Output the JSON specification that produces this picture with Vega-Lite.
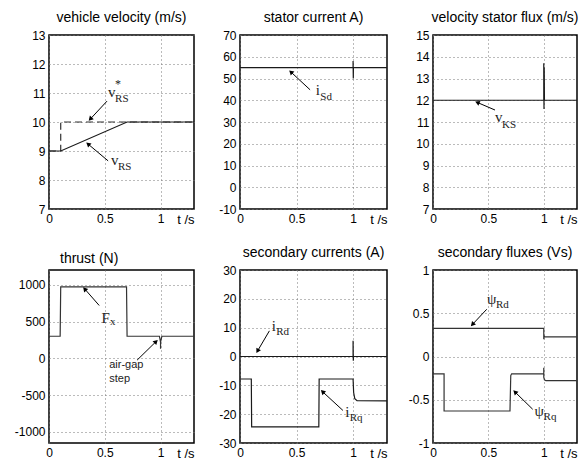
{
  "$schema": "https://vega.github.io/schema/vega-lite/v6.json",
  "padding": {"left": 13, "top": 10, "right": 3, "bottom": 3},
  "background": "white",
  "config": {
    "view": {"stroke": "black", "strokeWidth": 1.5},
    "font": "Liberation Sans",
    "axis": {
      "grid": true, "gridDash": [1, 3], "gridColor": "#777", "gridWidth": 1,
      "ticks": false, "domain": false,
      "labelFont": "Liberation Sans", "labelFontSize": 12, "labelColor": "black",
      "labelPadding": 4, "labelFlush": false, "labelOverlap": false,
      "titleFont": "Liberation Sans", "titleFontSize": 13, "titleFontWeight": "normal", "titleColor": "black"
    },
    "title": {"font": "Liberation Sans", "fontSize": 14, "fontWeight": "normal", "color": "black", "offset": 0, "anchor": "middle"},
    "line": {"color": "#1a1a1a", "strokeWidth": 1.2},
    "rule": {"color": "black", "strokeWidth": 1},
    "point": {"color": "black", "filled": true, "opacity": 1, "size": 28, "shape": "triangle-up"},
    "text": {"font": "Liberation Serif", "color": "#222"}
  },
  "vconcat": [
    {
      "hconcat": [
        {
          "width": 145, "height": 174,
          "title": "vehicle velocity (m/s)",
          "layer": [
            {
              "data": {"values": [{"t": 0, "v": 9}, {"t": 0.105, "v": 9}, {"t": 0.105, "v": 10}, {"t": 1.3, "v": 10}]},
              "mark": {"type": "line", "strokeDash": [7, 4], "color": "#333"},
              "encoding": {
                "x": {"field": "t", "type": "quantitative", "scale": {"domain": [0, 1.3], "nice": false, "zero": false}, "axis": {"values": [0, 0.5, 1], "tickCount": 20, "title": "t /s", "labelExpr": "datum.value + ''", "labelOverlap": false, "titleAnchor": "end", "titleAlign": "right", "titleBaseline": "top", "titleY": 4}},
                "y": {"field": "v", "type": "quantitative", "scale": {"domain": [7, 13], "nice": false, "zero": false}, "axis": {"values": [7, 8, 9, 10, 11, 12, 13], "tickCount": 20, "title": null, "labelExpr": "datum.value + ''", "labelOverlap": false}},
                "order": {"value": null}
              }
            },
            {
              "data": {"values": [{"t": 0, "v": 9}, {"t": 0.105, "v": 9}, {"t": 0.7, "v": 10}, {"t": 1.3, "v": 10}]},
              "mark": {"type": "line"},
              "encoding": {"x": {"field": "t", "type": "quantitative"}, "y": {"field": "v", "type": "quantitative"}, "order": {"value": null}}
            },
            {
              "data": {"values": [{"t": 0.52, "v": 10.72, "t2": 0.37, "v2": 10.1}]},
              "layer": [
                {"mark": {"type": "rule"}, "encoding": {"x": {"field": "t", "type": "quantitative"}, "y": {"field": "v", "type": "quantitative"}, "x2": {"field": "t2"}, "y2": {"field": "v2"}}},
                {"mark": {"type": "point", "angle": 223}, "encoding": {"x": {"field": "t2", "type": "quantitative"}, "y": {"field": "v2", "type": "quantitative"}}}
              ]
            },
            {
              "data": {"values": [{"t": 0.53, "v": 8.66, "t2": 0.35, "v2": 9.24}]},
              "layer": [
                {"mark": {"type": "rule"}, "encoding": {"x": {"field": "t", "type": "quantitative"}, "y": {"field": "v", "type": "quantitative"}, "x2": {"field": "t2"}, "y2": {"field": "v2"}}},
                {"mark": {"type": "point", "angle": 310}, "encoding": {"x": {"field": "t2", "type": "quantitative"}, "y": {"field": "v2", "type": "quantitative"}}}
              ]
            },
            {
              "data": {"values": [{"t": 0.53, "v": 10.85, "m": "v", "sub": "RS", "sup": "*"}, {"t": 0.556, "v": 8.53, "m": "v", "sub": "RS", "sup": ""}]},
              "layer": [
                {"mark": {"type": "text", "fontSize": 15, "align": "left", "baseline": "alphabetic"}, "encoding": {"x": {"field": "t", "type": "quantitative"}, "y": {"field": "v", "type": "quantitative"}, "text": {"field": "m"}}},
                {"mark": {"type": "text", "fontSize": 11, "align": "left", "baseline": "alphabetic", "dx": 7, "dy": 5}, "encoding": {"x": {"field": "t", "type": "quantitative"}, "y": {"field": "v", "type": "quantitative"}, "text": {"field": "sub"}}},
                {"mark": {"type": "text", "fontSize": 12, "align": "left", "baseline": "alphabetic", "dx": 7, "dy": -9}, "encoding": {"x": {"field": "t", "type": "quantitative"}, "y": {"field": "v", "type": "quantitative"}, "text": {"field": "sup"}}}
              ]
            }
          ]
        },
        {
          "width": 147, "height": 174,
          "title": "stator current A)",
          "layer": [
            {
              "data": {"values": [{"t": 0, "v": 55}, {"t": 1.0, "v": 55}, {"t": 1.0, "v": 58}, {"t": 1.002, "v": 50}, {"t": 1.003, "v": 55}, {"t": 1.3, "v": 55}]},
              "mark": {"type": "line"},
              "encoding": {
                "x": {"field": "t", "type": "quantitative", "scale": {"domain": [0, 1.3], "nice": false, "zero": false}, "axis": {"values": [0, 0.5, 1], "tickCount": 20, "title": "t /s", "labelExpr": "datum.value + ''", "labelOverlap": false, "titleAnchor": "end", "titleAlign": "right", "titleBaseline": "top", "titleY": 4}},
                "y": {"field": "v", "type": "quantitative", "scale": {"domain": [-10, 70], "nice": false, "zero": false}, "axis": {"values": [-10, 0, 10, 20, 30, 40, 50, 60, 70], "tickCount": 20, "title": null, "labelExpr": "datum.value + ''", "labelOverlap": false}},
                "order": {"value": null}
              }
            },
            {
              "data": {"values": [{"t": 0.62, "v": 44.8, "t2": 0.45, "v2": 53}]},
              "layer": [
                {"mark": {"type": "rule"}, "encoding": {"x": {"field": "t", "type": "quantitative"}, "y": {"field": "v", "type": "quantitative"}, "x2": {"field": "t2"}, "y2": {"field": "v2"}}},
                {"mark": {"type": "point", "angle": 313}, "encoding": {"x": {"field": "t2", "type": "quantitative"}, "y": {"field": "v2", "type": "quantitative"}}}
              ]
            },
            {
              "data": {"values": [{"t": 0.67, "v": 42.6, "m": "i", "sub": "Sd"}]},
              "layer": [
                {"mark": {"type": "text", "fontSize": 15, "align": "left", "baseline": "alphabetic"}, "encoding": {"x": {"field": "t", "type": "quantitative"}, "y": {"field": "v", "type": "quantitative"}, "text": {"field": "m"}}},
                {"mark": {"type": "text", "fontSize": 11, "align": "left", "baseline": "alphabetic", "dx": 4.5, "dy": 5}, "encoding": {"x": {"field": "t", "type": "quantitative"}, "y": {"field": "v", "type": "quantitative"}, "text": {"field": "sub"}}}
              ]
            }
          ]
        },
        {
          "width": 144, "height": 174,
          "title": "velocity stator flux (m/s)",
          "layer": [
            {
              "data": {"values": [{"t": 0, "v": 12}, {"t": 1.0, "v": 12}, {"t": 1.0, "v": 13.7}, {"t": 1.002, "v": 11.6}, {"t": 1.004, "v": 13.5}, {"t": 1.006, "v": 12}, {"t": 1.3, "v": 12}]},
              "mark": {"type": "line"},
              "encoding": {
                "x": {"field": "t", "type": "quantitative", "scale": {"domain": [0, 1.3], "nice": false, "zero": false}, "axis": {"values": [0, 0.5, 1], "tickCount": 20, "title": "t /s", "labelExpr": "datum.value + ''", "labelOverlap": false, "titleAnchor": "end", "titleAlign": "right", "titleBaseline": "top", "titleY": 4}},
                "y": {"field": "v", "type": "quantitative", "scale": {"domain": [7, 15], "nice": false, "zero": false}, "axis": {"values": [7, 8, 9, 10, 11, 12, 13, 14, 15], "tickCount": 20, "title": null, "labelExpr": "datum.value + ''", "labelOverlap": false}},
                "order": {"value": null}
              }
            },
            {
              "data": {"values": [{"t": 0.56, "v": 11.55, "t2": 0.4, "v2": 11.9}]},
              "layer": [
                {"mark": {"type": "rule"}, "encoding": {"x": {"field": "t", "type": "quantitative"}, "y": {"field": "v", "type": "quantitative"}, "x2": {"field": "t2"}, "y2": {"field": "v2"}}},
                {"mark": {"type": "point", "angle": 293}, "encoding": {"x": {"field": "t2", "type": "quantitative"}, "y": {"field": "v2", "type": "quantitative"}}}
              ]
            },
            {
              "data": {"values": [{"t": 0.56, "v": 11.0, "m": "v", "sub": "KS"}]},
              "layer": [
                {"mark": {"type": "text", "fontSize": 15, "align": "left", "baseline": "alphabetic"}, "encoding": {"x": {"field": "t", "type": "quantitative"}, "y": {"field": "v", "type": "quantitative"}, "text": {"field": "m"}}},
                {"mark": {"type": "text", "fontSize": 11, "align": "left", "baseline": "alphabetic", "dx": 7, "dy": 6}, "encoding": {"x": {"field": "t", "type": "quantitative"}, "y": {"field": "v", "type": "quantitative"}, "text": {"field": "sub"}}}
              ]
            }
          ]
        }
      ],
      "spacing": 46,
      "bounds": "flush"
    },
    {
      "hconcat": [
        {
          "width": 145, "height": 173,
          "title": {"text": "thrust (N)", "anchor": "start", "frame": "group", "dx": 11},
          "layer": [
            {
              "data": {"values": [{"t": 0, "v": 300}, {"t": 0.1, "v": 300}, {"t": 0.105, "v": 970}, {"t": 0.695, "v": 970}, {"t": 0.7, "v": 300}, {"t": 0.99, "v": 300}, {"t": 1.0, "v": 220}, {"t": 1.0, "v": 130}, {"t": 1.0, "v": 220}, {"t": 1.012, "v": 300}, {"t": 1.3, "v": 300}]},
              "mark": {"type": "line", "color": "#333"},
              "encoding": {
                "x": {"field": "t", "type": "quantitative", "scale": {"domain": [0, 1.3], "nice": false, "zero": false}, "axis": {"values": [0, 0.5, 1], "tickCount": 20, "title": "t /s", "labelExpr": "datum.value + ''", "labelOverlap": false, "titleAnchor": "end", "titleAlign": "right", "titleBaseline": "top", "titleY": 4}},
                "y": {"field": "v", "type": "quantitative", "scale": {"domain": [-1150, 1200], "nice": false, "zero": false}, "axis": {"values": [-1000, -500, 0, 500, 1000], "tickCount": 20, "title": null, "labelExpr": "datum.value + ''", "labelOverlap": false}},
                "order": {"value": null}
              }
            },
            {
              "data": {"values": [{"t": 0.45, "v": 718, "t2": 0.32, "v2": 943}]},
              "layer": [
                {"mark": {"type": "rule"}, "encoding": {"x": {"field": "t", "type": "quantitative"}, "y": {"field": "v", "type": "quantitative"}, "x2": {"field": "t2"}, "y2": {"field": "v2"}}},
                {"mark": {"type": "point", "angle": 319}, "encoding": {"x": {"field": "t2", "type": "quantitative"}, "y": {"field": "v2", "type": "quantitative"}}}
              ]
            },
            {
              "data": {"values": [{"t": 0.79, "v": -24, "t2": 0.96, "v2": 228}]},
              "layer": [
                {"mark": {"type": "rule"}, "encoding": {"x": {"field": "t", "type": "quantitative"}, "y": {"field": "v", "type": "quantitative"}, "x2": {"field": "t2"}, "y2": {"field": "v2"}}},
                {"mark": {"type": "point", "angle": 46}, "encoding": {"x": {"field": "t2", "type": "quantitative"}, "y": {"field": "v2", "type": "quantitative"}}}
              ]
            },
            {
              "data": {"values": [{"t": 0.47, "v": 480, "m": "F", "sub": "x"}]},
              "layer": [
                {"mark": {"type": "text", "fontSize": 15, "align": "left", "baseline": "alphabetic"}, "encoding": {"x": {"field": "t", "type": "quantitative"}, "y": {"field": "v", "type": "quantitative"}, "text": {"field": "m"}}},
                {"mark": {"type": "text", "fontSize": 11, "align": "left", "baseline": "alphabetic", "dx": 8.5, "dy": 2}, "encoding": {"x": {"field": "t", "type": "quantitative"}, "y": {"field": "v", "type": "quantitative"}, "text": {"field": "sub"}}}
              ]
            },
            {
              "data": {"values": [{"t": 0.54, "v": -136, "m": "air-gap\nstep"}]},
              "mark": {"type": "text", "font": "Liberation Sans", "fontSize": 11, "align": "left", "baseline": "alphabetic", "lineBreak": "\n", "lineHeight": 14},
              "encoding": {"x": {"field": "t", "type": "quantitative"}, "y": {"field": "v", "type": "quantitative"}, "text": {"field": "m"}}
            }
          ]
        },
        {
          "width": 147, "height": 173,
          "title": "secondary currents (A)",
          "layer": [
            {
              "data": {"values": [{"t": 0, "v": 0}, {"t": 1.0, "v": 0}, {"t": 1.0, "v": 5.5}, {"t": 1.002, "v": -1.5}, {"t": 1.004, "v": 0}, {"t": 1.3, "v": 0}]},
              "mark": {"type": "line"},
              "encoding": {
                "x": {"field": "t", "type": "quantitative", "scale": {"domain": [0, 1.3], "nice": false, "zero": false}, "axis": {"values": [0, 0.5, 1], "tickCount": 20, "title": "t /s", "labelExpr": "datum.value + ''", "labelOverlap": false, "titleAnchor": "end", "titleAlign": "right", "titleBaseline": "top", "titleY": 4}},
                "y": {"field": "v", "type": "quantitative", "scale": {"domain": [-30, 30], "nice": false, "zero": false}, "axis": {"values": [-30, -20, -10, 0, 10, 20, 30], "tickCount": 20, "title": null, "labelExpr": "datum.value + ''", "labelOverlap": false}},
                "order": {"value": null}
              }
            },
            {
              "data": {"values": [{"t": 0, "v": -7.8}, {"t": 0.1, "v": -7.8}, {"t": 0.103, "v": -24.4}, {"t": 0.697, "v": -24.4}, {"t": 0.7, "v": -7.8}, {"t": 1.0, "v": -7.8}, {"t": 1.005, "v": -12.5}, {"t": 1.015, "v": -14.6}, {"t": 1.035, "v": -15.3}, {"t": 1.3, "v": -15.4}]},
              "mark": {"type": "line"},
              "encoding": {"x": {"field": "t", "type": "quantitative"}, "y": {"field": "v", "type": "quantitative"}, "order": {"value": null}}
            },
            {
              "data": {"values": [{"t": 0.26, "v": 8.9, "t2": 0.155, "v2": 1.9}]},
              "layer": [
                {"mark": {"type": "rule"}, "encoding": {"x": {"field": "t", "type": "quantitative"}, "y": {"field": "v", "type": "quantitative"}, "x2": {"field": "t2"}, "y2": {"field": "v2"}}},
                {"mark": {"type": "point", "angle": 210}, "encoding": {"x": {"field": "t2", "type": "quantitative"}, "y": {"field": "v2", "type": "quantitative"}}}
              ]
            },
            {
              "data": {"values": [{"t": 0.91, "v": -18.7, "t2": 0.73, "v2": -12.2}]},
              "layer": [
                {"mark": {"type": "rule"}, "encoding": {"x": {"field": "t", "type": "quantitative"}, "y": {"field": "v", "type": "quantitative"}, "x2": {"field": "t2"}, "y2": {"field": "v2"}}},
                {"mark": {"type": "point", "angle": 313}, "encoding": {"x": {"field": "t2", "type": "quantitative"}, "y": {"field": "v2", "type": "quantitative"}}}
              ]
            },
            {
              "data": {"values": [{"t": 0.28, "v": 8.95, "m": "i", "sub": "Rd"}, {"t": 0.93, "v": -21.1, "m": "i", "sub": "Rq"}]},
              "layer": [
                {"mark": {"type": "text", "fontSize": 15, "align": "left", "baseline": "alphabetic"}, "encoding": {"x": {"field": "t", "type": "quantitative"}, "y": {"field": "v", "type": "quantitative"}, "text": {"field": "m"}}},
                {"mark": {"type": "text", "fontSize": 11, "align": "left", "baseline": "alphabetic", "dx": 4.5, "dy": 4}, "encoding": {"x": {"field": "t", "type": "quantitative"}, "y": {"field": "v", "type": "quantitative"}, "text": {"field": "sub"}}}
              ]
            }
          ]
        },
        {
          "width": 144, "height": 173,
          "title": "secondary fluxes (Vs)",
          "layer": [
            {
              "data": {"values": [{"t": 0, "v": 0.325}, {"t": 1.0, "v": 0.325}, {"t": 1.0, "v": 0.2}, {"t": 1.003, "v": 0.24}, {"t": 1.008, "v": 0.226}, {"t": 1.3, "v": 0.226}]},
              "mark": {"type": "line", "color": "#333"},
              "encoding": {
                "x": {"field": "t", "type": "quantitative", "scale": {"domain": [0, 1.3], "nice": false, "zero": false}, "axis": {"values": [0, 0.5, 1], "tickCount": 20, "title": "t /s", "labelExpr": "datum.value + ''", "labelOverlap": false, "titleAnchor": "end", "titleAlign": "right", "titleBaseline": "top", "titleY": 4}},
                "y": {"field": "v", "type": "quantitative", "scale": {"domain": [-1, 1], "nice": false, "zero": false}, "axis": {"values": [-1, -0.5, 0, 0.5, 1], "tickCount": 20, "title": null, "labelExpr": "datum.value + ''", "labelOverlap": false}},
                "order": {"value": null}
              }
            },
            {
              "data": {"values": [{"t": 0, "v": -0.2}, {"t": 0.1, "v": -0.2}, {"t": 0.1, "v": -0.63}, {"t": 0.695, "v": -0.63}, {"t": 0.702, "v": -0.22}, {"t": 0.71, "v": -0.2}, {"t": 1.0, "v": -0.2}, {"t": 1.0, "v": -0.13}, {"t": 1.0, "v": -0.24}, {"t": 1.006, "v": -0.27}, {"t": 1.02, "v": -0.28}, {"t": 1.3, "v": -0.28}]},
              "mark": {"type": "line", "color": "#333"},
              "encoding": {"x": {"field": "t", "type": "quantitative"}, "y": {"field": "v", "type": "quantitative"}, "order": {"value": null}}
            },
            {
              "data": {"values": [{"t": 0.485, "v": 0.546, "t2": 0.356, "v2": 0.37}]},
              "layer": [
                {"mark": {"type": "rule"}, "encoding": {"x": {"field": "t", "type": "quantitative"}, "y": {"field": "v", "type": "quantitative"}, "x2": {"field": "t2"}, "y2": {"field": "v2"}}},
                {"mark": {"type": "point", "angle": 223}, "encoding": {"x": {"field": "t2", "type": "quantitative"}, "y": {"field": "v2", "type": "quantitative"}}}
              ]
            },
            {
              "data": {"values": [{"t": 0.9, "v": -0.61, "t2": 0.74, "v2": -0.41}]},
              "layer": [
                {"mark": {"type": "rule"}, "encoding": {"x": {"field": "t", "type": "quantitative"}, "y": {"field": "v", "type": "quantitative"}, "x2": {"field": "t2"}, "y2": {"field": "v2"}}},
                {"mark": {"type": "point", "angle": 314}, "encoding": {"x": {"field": "t2", "type": "quantitative"}, "y": {"field": "v2", "type": "quantitative"}}}
              ]
            },
            {
              "data": {"values": [{"t": 0.487, "v": 0.607, "m": "ψ", "sub": "Rd"}, {"t": 0.917, "v": -0.69, "m": "ψ", "sub": "Rq"}]},
              "layer": [
                {"mark": {"type": "text", "fontSize": 15, "align": "left", "baseline": "alphabetic"}, "encoding": {"x": {"field": "t", "type": "quantitative"}, "y": {"field": "v", "type": "quantitative"}, "text": {"field": "m"}}},
                {"mark": {"type": "text", "fontSize": 11, "align": "left", "baseline": "alphabetic", "dx": 9, "dy": 4}, "encoding": {"x": {"field": "t", "type": "quantitative"}, "y": {"field": "v", "type": "quantitative"}, "text": {"field": "sub"}}}
              ]
            }
          ]
        }
      ],
      "spacing": 46,
      "bounds": "flush"
    }
  ],
  "spacing": 18
}
